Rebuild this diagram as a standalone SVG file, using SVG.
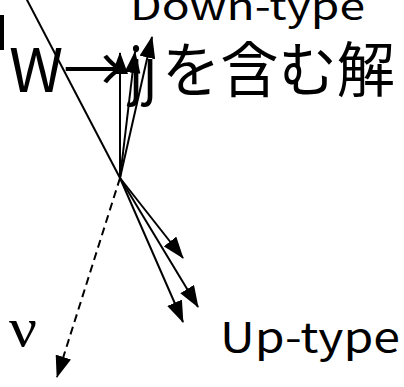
<svg xmlns="http://www.w3.org/2000/svg" width="404" height="387" viewBox="0 0 404 387">
<style>
.t{font-family:"Noto Sans CJK JP","Liberation Sans",sans-serif;fill:#000}
.s{font-family:"Liberation Serif","Noto Sans CJK JP",serif;fill:#000}
.l{stroke:#000;stroke-width:2;fill:none}
.d{stroke:#000;stroke-width:2;fill:none;stroke-dasharray:8,5}
</style>
<defs>
<marker id="ah" markerUnits="userSpaceOnUse" markerWidth="22" markerHeight="16" refX="21" refY="8" orient="auto" viewBox="0 0 22 16">
<path d="M0,0 L22,8 L0,16 z" fill="#000"/>
</marker>
</defs>
<rect x="0" y="15" width="4" height="35" fill="#000"/>
<g id="labels">
<text class="t" x="130" y="20" font-size="38" textLength="235" lengthAdjust="spacingAndGlyphs">Down-type</text>
<text class="t" x="9" y="92" font-size="60" textLength="116" lengthAdjust="spacingAndGlyphs">W→</text>
<text class="t" x="129" y="92" font-size="60" textLength="28" lengthAdjust="spacingAndGlyphs">jj</text>
<text class="t" x="162" y="92" font-size="60" textLength="233" lengthAdjust="spacingAndGlyphs">を含む解</text>
<text class="s" x="9" y="346" font-size="54" textLength="28" lengthAdjust="spacingAndGlyphs">ν</text>
<text class="t" x="220" y="352" font-size="41" textLength="180" lengthAdjust="spacingAndGlyphs">Up-type</text>
</g>
<g id="connectors">
<line class="l" x1="26" y1="-2" x2="120" y2="178"/>
<line class="l" x1="120" y1="178" x2="120" y2="53" marker-end="url(#ah)"/>
<line class="l" x1="120" y1="178" x2="135" y2="52" marker-end="url(#ah)"/>
<line class="l" x1="120" y1="178" x2="152" y2="37" marker-end="url(#ah)"/>
<line class="l" x1="120" y1="178" x2="183" y2="258" marker-end="url(#ah)"/>
<line class="l" x1="120" y1="178" x2="198" y2="307" marker-end="url(#ah)"/>
<line class="l" x1="120" y1="178" x2="183" y2="322" marker-end="url(#ah)"/>
<line class="d" x1="120" y1="178" x2="57" y2="377" marker-end="url(#ah)"/>
</g>
</svg>
